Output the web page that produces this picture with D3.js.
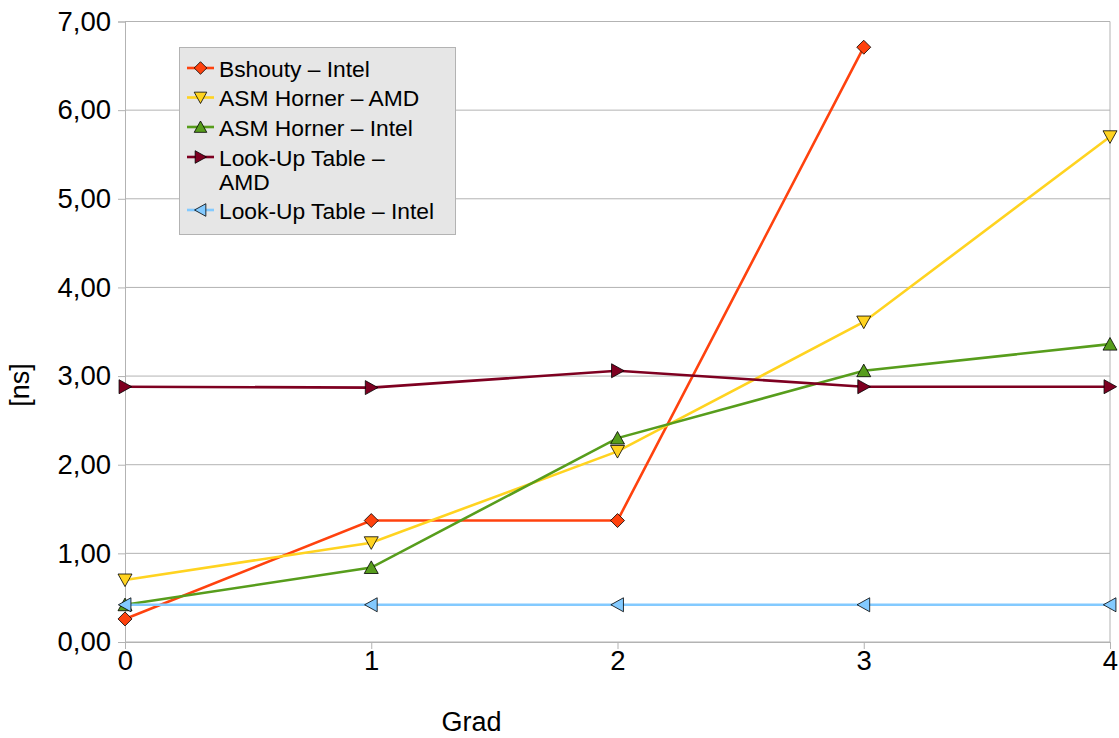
<!DOCTYPE html>
<html><head><meta charset="utf-8">
<script src="https://cdn.jsdelivr.net/npm/d3@7/dist/d3.min.js"></script>
<style>body{margin:0;background:#fff}svg{display:block}text{font-family:"Liberation Sans",Arial,sans-serif;fill:#000}</style>
</head><body><svg id="c" width="1119" height="738"></svg>
<script>
const categories = [0, 1, 2, 3, 4];
const yTicks = [0, 1, 2, 3, 4, 5, 6, 7];
const seriesNames = ["Bshouty – Intel", "ASM Horner – AMD", "ASM Horner – Intel", "Look-Up Table – AMD", "Look-Up Table – Intel"];
const bshoutyIntel = [0.26, 1.37, 1.37, 6.71, null];
const asmHornerAmd = [0.70, 1.12, 2.15, 3.61, 5.70];
const asmHornerIntel = [0.42, 0.84, 2.30, 3.06, 3.36];
const lutAmd = [2.88, 2.87, 3.06, 2.88, 2.88];
const lutIntel = [0.42, 0.42, 0.42, 0.42, 0.42];
const colors = ["#ff420e", "#ffd320", "#579d1c", "#7e0021", "#83caff"];
const shapes = ["diamond", "down", "up", "right", "left"];

const series = [bshoutyIntel, asmHornerAmd, asmHornerIntel, lutAmd, lutIntel];
const svg = d3.select("#c");
const L = 125, R = 1110, T = 21.5, B = 642;
const x = d3.scaleLinear().domain([0, 4]).range([L, R]);
const y = d3.scaleLinear().domain([0, 7]).range([B, T]);

// grid
svg.append("g").selectAll("line").data(yTicks).join("line")
  .attr("x1", L).attr("x2", R).attr("y1", d => y(d)).attr("y2", d => y(d))
  .attr("stroke", "#b3b3b3").attr("stroke-width", 1);
svg.append("line").attr("x1", R).attr("x2", R).attr("y1", T).attr("y2", B).attr("stroke", "#b3b3b3");

// axes
const fmt = d => d.toFixed(2).replace(".", ",");
const ya = svg.append("g").attr("transform", `translate(${L},0)`)
  .call(d3.axisLeft(y).tickValues(yTicks).tickFormat(fmt).tickSize(7).tickPadding(7));
const xa = svg.append("g").attr("transform", `translate(0,${B})`)
  .call(d3.axisBottom(x).tickValues(categories).tickFormat(d => d).tickSize(7).tickPadding(1));
[ya, xa].forEach(a => {
  a.selectAll("path,line").attr("stroke", "#b3b3b3");
  a.selectAll("text").style("font-size", "27.5px").style("font-family", '"Liberation Sans",Arial,sans-serif').attr("fill", "#000");
});

svg.append("text").attr("x", 471.5).attr("y", 731).attr("text-anchor", "middle").style("font-size", "27px").text("Grad");
svg.append("text").attr("transform", "translate(29,385) rotate(-90)").attr("text-anchor", "middle").style("font-size", "27px").text("[ns]");

function shapePath(s, r) {
  switch (s) {
    case "diamond": return `M0,${-r}L${r},0L0,${r}L${-r},0Z`;
    case "down": return `M${-r},${-r*0.85}L${r},${-r*0.85}L0,${r*0.95}Z`;
    case "up": return `M${-r},${r*0.85}L${r},${r*0.85}L0,${-r*0.95}Z`;
    case "right": return `M${-r*0.85},${-r}L${-r*0.85},${r}L${r*0.95},0Z`;
    case "left": return `M${r*0.85},${-r}L${r*0.85},${r}L${-r*0.95},0Z`;
  }
}

const line = d3.line().defined(d => d != null).x((d, i) => x(categories[i])).y(d => y(d));
series.forEach((s, k) => {
  const g = svg.append("g");
  g.append("path").attr("d", line(s)).attr("fill", "none").attr("stroke", colors[k]).attr("stroke-width", 2.6);
  g.selectAll("path.m").data(s.map((v, i) => [categories[i], v]).filter(d => d[1] != null)).join("path")
    .attr("class", "m")
    .attr("transform", d => `translate(${x(d[0])},${y(d[1])})`)
    .attr("d", shapePath(shapes[k], 7))
    .attr("fill", colors[k]).attr("stroke", "#000").attr("stroke-width", 0.8);
});

// legend
const lg = svg.append("g");
lg.append("rect").attr("x", 179.5).attr("y", 47.5).attr("width", 276).attr("height", 187)
  .attr("fill", "#e6e6e6").attr("stroke", "#b3b3b3");
const rows = [68, 97.5, 127, 157, 210];
seriesNames.forEach((n, k) => {
  const cy = rows[k];
  lg.append("line").attr("x1", 187).attr("x2", 214).attr("y1", cy).attr("y2", cy).attr("stroke", colors[k]).attr("stroke-width", 2.6);
  lg.append("path").attr("transform", `translate(200.5,${cy})`).attr("d", shapePath(shapes[k], 6.3))
    .attr("fill", colors[k]).attr("stroke", "#000").attr("stroke-width", 0.8);
  const t = lg.append("text").attr("x", 219).attr("y", cy + 8.5).style("font-size", "22.8px");
  if (k === 3) {
    t.append("tspan").attr("x", 219).text("Look-Up Table –");
    t.append("tspan").attr("x", 219).attr("dy", 24.5).text("AMD");
  } else t.text(n);
});
</script></body></html>
